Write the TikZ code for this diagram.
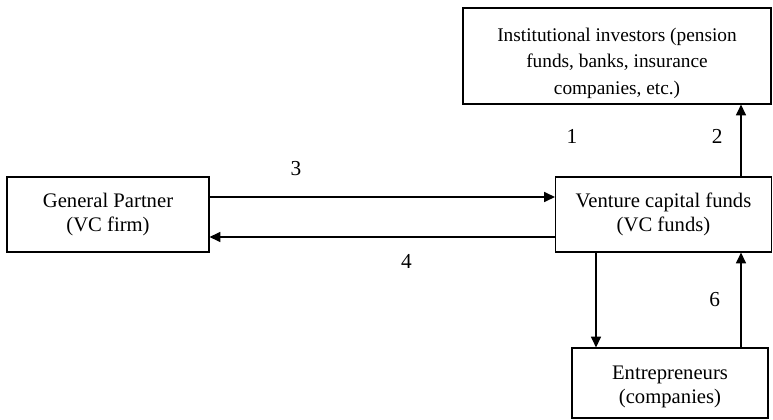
\documentclass[tikz,border=0pt]{standalone}
\usepackage{fontspec}
\setmainfont{Liberation Serif}
\usetikzlibrary{arrows.meta}

\begin{document}
\begin{tikzpicture}[x=0.75pt, y=-0.75pt,
  every node/.style={font=\fontsize{16}{20}\selectfont},
  box/.style={draw, line width=0.9pt, align=center, inner sep=2pt,
    font=\fontsize{15.5}{18.5}\selectfont},
  flow/.style={-{Triangle[length=8pt,width=7.5pt]}, line width=0.9pt}]
\useasboundingbox (0,0) rectangle (773,420);

% === Boxes ===
\node[box, minimum width=231pt, minimum height=72pt,
  font=\fontsize{14.5}{20}\selectfont] (inst) at (617,56)
  {\rule{0pt}{21pt}Institutional investors (pension\\ funds, banks, insurance\\ companies, etc.)};
\node[box, minimum width=151.5pt, minimum height=56.25pt] (gp) at (108,214.5)
  {General Partner\\ (VC firm)};
\node[box, minimum width=162pt, minimum height=56.25pt] (vc) at (663.5,214.5)
  {Venture capital funds\\ (VC funds)};
\node[box, minimum width=147pt, minimum height=52.5pt] (ent) at (670,383)
  {\rule{0pt}{16pt}Entrepreneurs\\ (companies)};

% helper coordinates for the arrow lines
\coordinate (xr) at (741,0);
\coordinate (xd) at (596,0);
\coordinate (yt) at (0,197);
\coordinate (yb) at (0,237);

% === Arrows ===
\node (l1) at (572,136) {1};
\draw[flow] (xr |- vc.north) -- (xr |- inst.south)
  node[pos=0.55, left=10pt] (l2) {2};
\draw[flow] (gp.east |- yt) -- (vc.west |- yt)
  node[pos=0.25, above=12pt] (l3) {3};
\draw[flow] (vc.west |- yb) -- (gp.east |- yb)
  node[pos=0.43, below=9pt] (l4) {4};
\draw[flow] (xd |- vc.south) -- (xd |- ent.north);
\draw[flow] (xr |- ent.north) -- (xr |- vc.south)
  node[midway, left=12pt] (l6) {6};
\end{tikzpicture}
\end{document}
